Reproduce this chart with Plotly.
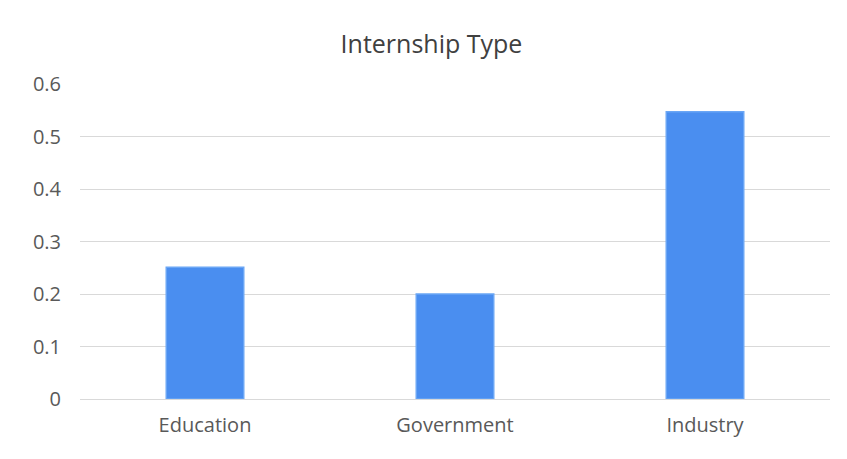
import plotly.graph_objects as go

categories = ["Education", "Government", "Industry"]
values = [0.251, 0.2, 0.547]

fig = go.Figure(go.Bar(x=categories, y=values, marker=dict(color="#4a8ef0", line=dict(color="#6aa6f5", width=1.5))))
fig.update_layout(
    width=847, height=459, paper_bgcolor="white", plot_bgcolor="white",
    margin=dict(l=72, r=25, t=76, b=68),
    bargap=0.69,
    title=dict(text="Internship Type", x=0.5, xanchor="center", y=0.92, yanchor="middle",
               font=dict(family="Open Sans", size=25, color="#404040")),
    font=dict(family="Open Sans", size=20, color="#595959"),
    showlegend=False,
)
fig.update_yaxes(range=[0, 0.6], dtick=0.1, gridcolor="#d9d9d9", gridwidth=1,
                 zeroline=False, showline=False, ticks="", ticklabelstandoff=18)
fig.update_xaxes(showline=True, linecolor="#d9d9d9", linewidth=1, ticks="", ticklabelstandoff=8)
fig.write_html("out.html")
